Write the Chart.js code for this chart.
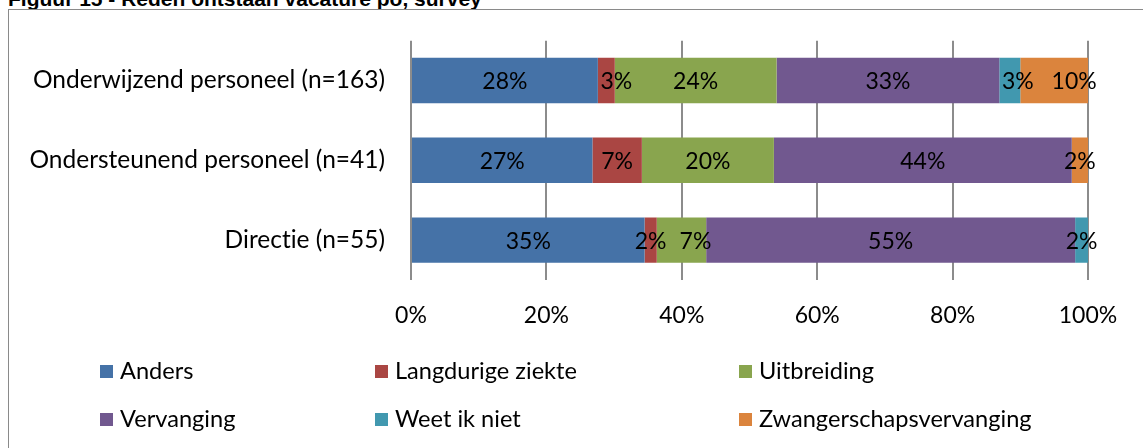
<!DOCTYPE html>
<html>
<head>
<meta charset="utf-8">
<script src="https://cdn.jsdelivr.net/npm/chart.js@4/dist/chart.umd.min.js"></script>
<style>
  html, body { margin: 0; padding: 0; background: #fff; overflow: hidden; }
  #page { position: relative; width: 1143px; height: 448px; overflow: hidden; }
  #title { position: absolute; left: 8px; top: -12px; font: bold 21px "Liberation Sans", Arial, sans-serif; line-height: 21px; color: #000; white-space: nowrap; }
  #frame { position: absolute; left: 8px; top: 9px; width: 1200px; height: 500px; border: 1px solid #8a8a8a; }
  #chart { position: absolute; left: 0; top: 0; }
  .legend-item { position: absolute; font: 23.6px Lato, sans-serif; font-variant-ligatures: none; color: #000; white-space: nowrap; line-height: 28px; }
  .legend-item span.box { display: inline-block; width: 13px; height: 13px; margin-right: 7px; vertical-align: 1px; }
</style>
</head>
<body>
<div id="page">
  <div id="title">Figuur 15 - Reden ontstaan vacature po, survey</div>
  <div id="frame"></div>
  <canvas id="chart" width="1143" height="448"></canvas>
  <div id="legend"></div>
</div>
<script>
var categories = ['Onderwijzend personeel (n=163)', 'Ondersteunend personeel (n=41)', 'Directie (n=55)']
var anders = [27.6, 26.8, 34.5]
var langdurigeZiekte = [2.5, 7.3, 1.8]
var uitbreiding = [23.9, 19.5, 7.3]
var vervanging = [32.9, 44.0, 54.5]
var weetIkNiet = [3.1, 0, 1.9]
var zwangerschap = [10.0, 2.4, 0]
var xTicks = [0, 20, 40, 60, 80, 100]

// a few labels were moved by hand in the original chart (dataset-index: px)
var labelNudge = { '1-0': 10, '4-0': 8, '5-0': 20, '2-2': 14 }

// legend columns / rows in the original layout
var legendCols = [100, 375, 739]
var legendRows = [356, 404]

var FONT = 'Lato, sans-serif'

// Lato has a "ti" ligature, the original font does not
var noLigatures = {
  id: 'noLigatures',
  beforeDraw: function (chart) {
    chart.ctx.textRendering = 'optimizeSpeed'
    chart.ctx.fontVariantLigatures = 'none'
  }
}

var segmentLabels = {
  id: 'segmentLabels',
  afterDatasetsDraw: function (chart) {
    var ctx = chart.ctx
    ctx.save()
    ctx.font = '23px ' + FONT
    ctx.fillStyle = '#000'
    ctx.textAlign = 'center'
    ctx.textBaseline = 'middle'
    chart.data.datasets.forEach(function (ds, di) {
      var meta = chart.getDatasetMeta(di)
      meta.data.forEach(function (bar, i) {
        var v = ds.data[i]
        if (!v) return
        var c = bar.getCenterPoint()
        var shift = labelNudge[di + '-' + i] || 0
        ctx.fillText(Math.round(v) + '%', c.x + shift, c.y + 1)
      })
    })
    ctx.restore()
  }
}

function makeDataset (label, data, color) {
  return {
    label: label,
    data: data,
    backgroundColor: color,
    borderWidth: 0,
    barPercentage: 0.57,
    categoryPercentage: 1
  }
}

var chart = new Chart(document.getElementById('chart'), {
  type: 'bar',
  data: {
    labels: categories,
    datasets: [
      makeDataset('Anders', anders, '#4572A7'),
      makeDataset('Langdurige ziekte', langdurigeZiekte, '#AA4643'),
      makeDataset('Uitbreiding', uitbreiding, '#89A54E'),
      makeDataset('Vervanging', vervanging, '#71588F'),
      makeDataset('Weet ik niet', weetIkNiet, '#4198AF'),
      makeDataset('Zwangerschapsvervanging', zwangerschap, '#DB843D')
    ]
  },
  options: {
    indexAxis: 'y',
    responsive: false,
    animation: false,
    layout: { padding: { left: 0, right: 55, top: 38, bottom: 0 } },
    plugins: {
      legend: { display: false },
      tooltip: { enabled: false }
    },
    scales: {
      x: {
        stacked: true,
        min: 0,
        max: 100,
        afterBuildTicks: function (scale) {
          scale.ticks = xTicks.map(function (v) { return { value: v } })
        },
        afterFit: function (scale) { scale.height = 448 - 280 },
        grid: { color: '#8c8c8c', lineWidth: 2, drawTicks: false },
        border: { display: false },
        ticks: {
          padding: 22,
          color: '#000',
          font: { family: FONT, size: 23 },
          callback: function (v) { return v + '%' }
        }
      },
      y: {
        stacked: true,
        afterFit: function (scale) { scale.width = 411 },
        grid: { display: false, drawTicks: false },
        border: { display: false },
        ticks: {
          padding: 26,
          color: '#000',
          font: { family: FONT, size: 24.5 }
        }
      }
    }
  },
  plugins: [noLigatures, segmentLabels]
})

function buildLegend (chart) {
  var items = Chart.defaults.plugins.legend.labels.generateLabels(chart)
  var holder = document.getElementById('legend')
  items.forEach(function (item, i) {
    var el = document.createElement('div')
    el.className = 'legend-item'
    el.style.left = legendCols[i % 3] + 'px'
    el.style.top = legendRows[Math.floor(i / 3)] + 'px'
    el.innerHTML = '<span class="box" style="background:' + item.fillStyle + '"></span>' + item.text
    holder.appendChild(el)
  })
}

buildLegend(chart)
</script>
</body>
</html>
